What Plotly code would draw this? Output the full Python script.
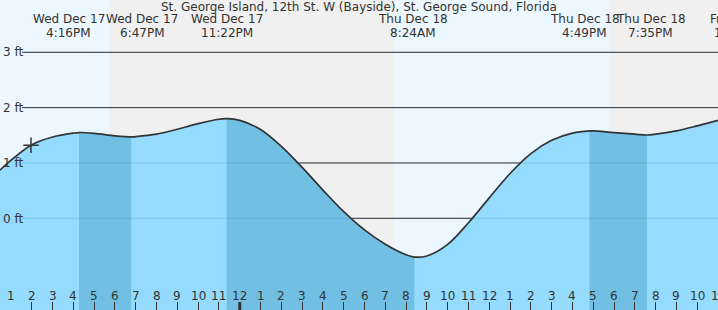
import plotly.graph_objects as go

# ---------------- data ----------------
# time in hours since midnight, Wed Dec 17
hours = [12.47, 13, 14, 15, 16, 16.27, 17, 18, 18.78, 19, 20, 21, 22, 23, 23.37,
         24, 25, 26, 27, 28, 29, 30, 31, 32, 32.4, 33, 34, 35, 36, 37, 38, 39, 40,
         40.82, 41, 42, 43, 43.58, 44, 45, 46, 47.0]
heights = [0.87, 1.05, 1.33, 1.47, 1.54, 1.55, 1.535, 1.49, 1.47, 1.475, 1.52, 1.61,
           1.71, 1.79, 1.80, 1.77, 1.605, 1.30, 0.92, 0.51, 0.12, -0.21, -0.47, -0.66,
           -0.70, -0.68, -0.47, -0.08, 0.37, 0.81, 1.17, 1.41, 1.54, 1.58, 1.58, 1.55,
           1.52, 1.505, 1.52, 1.58, 1.67, 1.77]

# tide events (high / low)
event_times = [16.27, 18.78, 23.37, 32.40, 40.82, 43.58, 48.07]
event_dates = ["Wed Dec 17", "Wed Dec 17", "Wed Dec 17", "Thu Dec 18",
               "Thu Dec 18", "Thu Dec 18", "Fri Dec 19"]
event_clock = ["4:16PM", "6:47PM", "11:22PM", "8:24AM", "4:49PM", "7:35PM", "12:04AM"]
event_kind = ["H", "L", "H", "L", "H", "L", "H"]
label_shift = [-10.5, 11, 0, -1, -5, 4, 0]   # px, to avoid label overlap

# sun: night intervals (sunset -> sunrise)
night_start = [17.71, 41.77]
night_end = [31.44, 48.0]

now_time = 13.96
now_height = 1.32

tick_hours = list(range(13, 48))
tick_text = [str((h - 1) % 12 + 1) for h in tick_hours]

y_ticks = [0, 1, 2, 3]
y_text = ["0 ft", "1 ft", "2 ft", "3 ft"]

title = "St. George Island, 12th St. W (Bayside), St. George Sound, Florida"

# ---------------- style ----------------
W, H = 718, 310
x_range = [12.47, 47.0]
y_range = [-1.657, 3.945]
BASE = -2.5
FONT = "DejaVu Sans"
TXT = "#333333"
DAY = "#ecf7ff"
NIGHT = "#f0f0f0"
WATER_RISE = "#94dbfe"
WATER_FALL = "#72bfe4"

fig = go.Figure()

# full water fill (rising colour)
fig.add_trace(go.Scatter(x=[hours[0], hours[-1]], y=[BASE, BASE], mode="lines",
                         line=dict(width=0), hoverinfo="skip", showlegend=False))
fig.add_trace(go.Scatter(x=hours, y=heights, mode="lines", line=dict(width=0, shape="spline"),
                         fill="tonexty", fillcolor=WATER_RISE, hoverinfo="skip", showlegend=False))

# falling-tide segments (high -> next low)
for i, k in enumerate(event_kind):
    if k != "H":
        continue
    t0 = event_times[i]
    t1 = event_times[i + 1] if i + 1 < len(event_times) else hours[-1]
    idx = [j for j, t in enumerate(hours) if t0 - 1e-9 <= t <= t1 + 1e-9]
    if len(idx) < 2:
        continue
    sx = [hours[j] for j in idx]
    sy = [heights[j] for j in idx]
    fig.add_trace(go.Scatter(x=[sx[0], sx[-1]], y=[BASE, BASE], mode="lines",
                             line=dict(width=0), hoverinfo="skip", showlegend=False))
    fig.add_trace(go.Scatter(x=sx, y=sy, mode="lines", line=dict(width=0, shape="spline"),
                             fill="tonexty", fillcolor=WATER_FALL, hoverinfo="skip",
                             showlegend=False))

# tide curve
fig.add_trace(go.Scatter(x=hours, y=heights, mode="lines",
                         line=dict(color="#333333", width=1.7, shape="spline"),
                         hoverinfo="skip", showlegend=False))

# current time marker
fig.add_trace(go.Scatter(x=[now_time], y=[now_height], mode="markers",
                         marker=dict(symbol="cross-thin", size=11,
                                     line=dict(color="#333333", width=1.5)),
                         hoverinfo="skip", showlegend=False))

shapes = []
for a, b in zip(night_start, night_end):
    shapes.append(dict(type="rect", xref="x", yref="paper", x0=a, x1=b, y0=0, y1=1,
                       fillcolor=NIGHT, line=dict(width=0), layer="below"))
for v in y_ticks:
    shapes.append(dict(type="line", xref="paper", yref="y", x0=22 / W, x1=1, y0=v, y1=v,
                       line=dict(color="#333333", width=1), layer="below"))
    shapes.append(dict(type="line", xref="paper", yref="y", x0=22 / W, x1=1, y0=v, y1=v,
                       line=dict(color="rgba(0,70,130,0.13)", width=1), layer="above"))
# midnight tick
shapes.append(dict(type="line", xref="x", yref="paper", x0=24, x1=24, y0=0, y1=8 / H,
                   line=dict(color="#333333", width=3), layer="above"))

annotations = [dict(text=title, xref="paper", yref="paper", x=0.5, y=1 - 7.5 / H,
                    xanchor="center", yanchor="middle", showarrow=False,
                    font=dict(family=FONT, size=12, color=TXT))]
for t, d, c, s in zip(event_times, event_dates, event_clock, label_shift):
    if x_range[0] <= t <= x_range[1]:
        xr, xv = "x", t
    else:
        xr, xv = "paper", (t - x_range[0]) / (x_range[1] - x_range[0])
    annotations.append(dict(text=d, xref=xr, yref="paper", x=xv, y=1 - 19.5 / H,
                            xanchor="center", yanchor="middle", xshift=s, showarrow=False,
                            font=dict(family=FONT, size=12, color=TXT)))
    annotations.append(dict(text=c, xref=xr, yref="paper", x=xv, y=1 - 32.5 / H,
                            xanchor="center", yanchor="middle", xshift=s, showarrow=False,
                            font=dict(family=FONT, size=12, color=TXT)))
# hour labels along the bottom
for t, lab in zip(tick_hours, tick_text):
    annotations.append(dict(text=lab, xref="x", yref="paper", x=t, y=1 - 295.5 / H,
                            xanchor="center", yanchor="middle", showarrow=False,
                            font=dict(family=FONT, size=12, color=TXT)))

fig.update_layout(
    width=W, height=H, autosize=False,
    margin=dict(l=0, r=0, t=0, b=0, pad=0),
    paper_bgcolor=DAY, plot_bgcolor=DAY,
    font=dict(family=FONT, size=12, color=TXT),
    shapes=shapes, annotations=annotations,
    xaxis=dict(range=x_range, tickvals=tick_hours, ticktext=tick_text,
               ticks="inside", ticklen=8, tickwidth=1, tickcolor="#333333",
               showticklabels=False, showgrid=False, zeroline=False,
               showline=False, fixedrange=True),
    yaxis=dict(range=y_range, tickvals=y_ticks, ticktext=y_text, ticks="",
               ticklabelposition="inside", showgrid=False, zeroline=False,
               showline=False, fixedrange=True,
               tickfont=dict(family=FONT, size=12, color=TXT)),
)

fig.write_html("out.html", config={"displayModeBar": False})
